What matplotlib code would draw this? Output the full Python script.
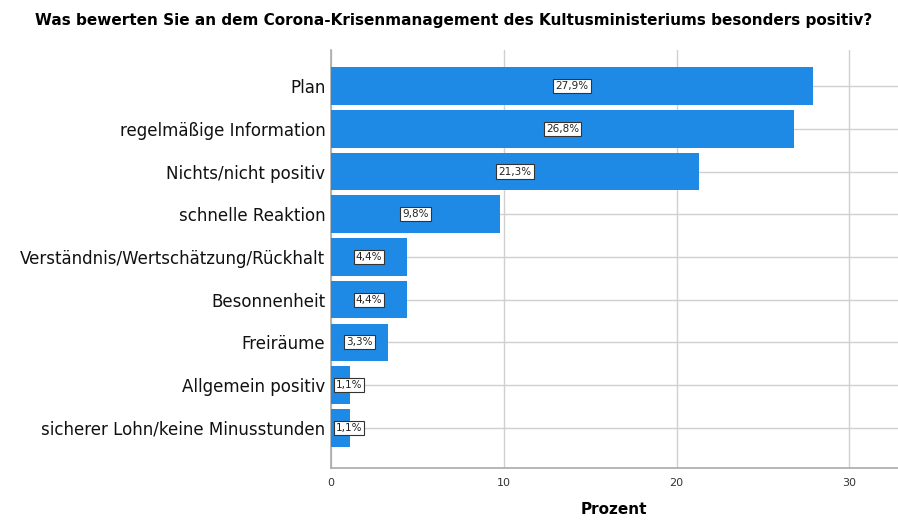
import matplotlib
matplotlib.use("Agg")
import matplotlib.pyplot as plt

categories = ["Plan", "regelmäßige Information", "Nichts/nicht positiv",
              "schnelle Reaktion", "Verständnis/Wertschätzung/Rückhalt",
              "Besonnenheit", "Freiräume", "Allgemein positiv",
              "sicherer Lohn/keine Minusstunden"]
values = [27.9, 26.8, 21.3, 9.8, 4.4, 4.4, 3.3, 1.1, 1.1]
labels = ["27,9%", "26,8%", "21,3%", "9,8%", "4,4%", "4,4%", "3,3%", "1,1%", "1,1%"]
xticks = [0, 10, 20, 30]

plt.rcParams['font.family'] = ['DejaVu Sans']

fig = plt.figure(figsize=(8.98, 5.21), dpi=100)
ax = fig.add_axes([0.3686, 0.1017, 0.631, 0.802])

pos = list(range(len(categories)))
ax.barh(pos, values, height=0.88, color="#1f8ae6", zorder=3)

for i, (v, lab) in enumerate(zip(values, labels)):
    xc = max(v / 2, 1.05)
    ax.text(xc, i, lab, ha="center", va="center", fontsize=7.5, color="#222222", zorder=4,
            bbox=dict(boxstyle="square,pad=0.2", facecolor="white", edgecolor="#333333", linewidth=0.8))

ax.set_yticks(pos)
ax.set_yticklabels(categories, fontsize=12, color="#111111")
ax.set_xticks(xticks)
ax.set_xticklabels([str(t) for t in xticks], fontsize=8, color="#333333")
ax.tick_params(axis="both", length=0, pad=4)
ax.tick_params(axis="x", pad=7)

ax.set_xlim(0, 32.8)
ax.set_ylim(8.94, -0.84)

ax.grid(True, axis="both", color="#d0d0d0", linewidth=1.0, zorder=0)
ax.set_axisbelow(True)
for s in ["top", "right"]:
    ax.spines[s].set_visible(False)
for s in ["left", "bottom"]:
    ax.spines[s].set_color("#aaaaaa")
    ax.spines[s].set_linewidth(1.2)

ax.set_xlabel("Prozent", fontsize=11, fontweight="bold", labelpad=10)
fig.suptitle("Was bewerten Sie an dem Corona-Krisenmanagement des Kultusministeriums besonders positiv?",
             fontsize=11, fontweight="bold", x=0.505, y=0.975)

fig.savefig("out.png", dpi=100)
